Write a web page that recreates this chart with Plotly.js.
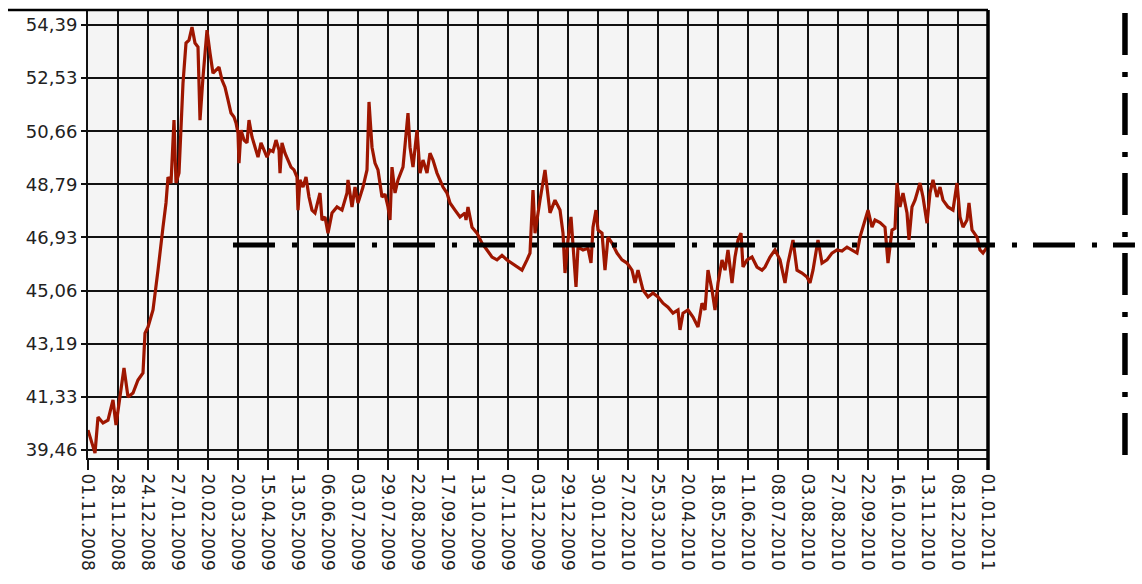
<!DOCTYPE html>
<html>
<head>
<meta charset="utf-8">
<script src="https://cdn.plot.ly/plotly-3.0.1.min.js"></script>
<style>html,body{margin:0;padding:0;background:#fff;}#chart{width:1142px;height:584px;}</style>
</head>
<body>
<div id="chart"></div>
<script>
// Observation number (30 observations per tick interval)
const obs = [0,3,7,10,15,20,25,28,30,32,36,40,45,50,55,57,60,65,68,70,75,78,80,83,86,88,91,95,98,101,104,107,110,112,115,117,119,122,125,128,131,134,137,140,143,146,148,150,151,153,156,159,161,164,167,170,173,176,179,182,185,188,191,192,194,197,200,203,206,209,210,212,215,218,221,224,227,232,234,237,240,244,249,254,259,260,264,267,270,275,279,281,284,287,290,294,297,300,302,304,307,310,315,320,322,325,329,332,335,339,342,345,349,352,355,359,362,367,372,377,378,380,384,389,394,399,404,409,414,419,424,429,434,439,442,445,447,452,457,462,467,472,475,477,480,483,485,488,490,495,500,503,505,508,510,514,517,520,524,529,534,539,544,547,550,555,560,565,570,575,580,585,590,592,595,600,605,610,614,617,620,624,627,630,634,637,640,644,647,650,653,655,659,664,669,674,677,682,687,692,697,700,705,709,714,719,722,725,730,734,739,744,749,754,759,764,769,772,775,780,784,787,792,797,800,804,807,809,812,815,819,821,824,827,832,835,839,842,845,849,852,855,860,865,869,872,875,879,881,884,889,892,895,899];
const rate = [40.16,39.81,39.35,40.62,40.41,40.51,41.22,40.34,40.87,41.32,42.34,41.32,41.46,41.92,42.17,43.57,43.78,44.38,45.33,45.78,47.29,48.14,49.05,48.84,51.05,48.84,49.19,52.35,53.76,53.86,54.32,53.76,53.62,51.05,52.56,53.27,54.21,53.41,52.70,52.81,52.91,52.46,52.21,51.76,51.30,51.16,50.95,50.60,49.54,50.70,50.35,50.25,51.05,50.46,50.10,49.75,50.25,50.00,49.75,50.00,49.95,50.35,50.00,49.19,50.25,49.89,49.65,49.40,49.30,49.05,47.89,48.95,48.70,49.05,48.35,47.89,47.79,48.49,47.54,47.65,47.08,47.79,48.00,47.89,48.49,48.95,48.00,48.70,48.14,48.70,49.30,51.69,50.10,49.54,49.30,48.35,48.45,48.00,47.54,49.40,48.49,48.95,49.40,51.30,50.10,49.40,50.70,49.19,49.65,49.19,49.89,49.65,49.19,48.95,48.70,48.49,48.14,47.89,47.65,47.79,47.54,48.00,47.29,47.08,46.73,46.49,46.24,46.14,46.30,46.14,46.03,45.89,45.78,46.14,46.38,48.59,47.08,48.24,49.30,47.79,48.24,47.89,47.08,45.68,46.84,47.65,46.49,45.19,46.59,46.49,46.55,46.03,47.29,47.89,47.19,47.08,45.78,46.94,46.73,46.38,46.14,46.03,45.78,45.33,45.78,45.08,44.84,44.98,44.84,44.62,44.48,44.27,44.38,43.68,44.27,44.38,44.13,43.78,44.62,44.38,45.78,45.08,44.38,45.33,46.14,45.78,46.49,45.33,46.24,46.84,47.08,45.89,46.14,46.24,45.89,45.78,45.89,46.24,46.49,46.14,45.33,46.03,46.84,45.78,45.68,45.54,45.33,45.78,46.84,46.03,46.14,46.38,46.49,46.45,46.59,46.49,46.38,46.94,47.29,47.89,47.29,47.54,47.45,47.29,46.03,47.19,47.25,48.84,48.00,48.49,47.79,46.84,48.00,48.24,48.84,48.35,47.43,48.49,48.95,48.35,48.70,48.24,48.00,47.89,48.84,47.65,47.29,47.54,48.14,47.19,46.94,46.49,46.38,46.59];

const tickDates = ["01.11.2008","28.11.2008","24.12.2008","27.01.2009","20.02.2009","20.03.2009","15.04.2009","13.05.2009","06.06.2009","03.07.2009","29.07.2009","22.08.2009","17.09.2009","13.10.2009","07.11.2009","03.12.2009","29.12.2009","30.01.2010","27.02.2010","25.03.2010","20.04.2010","18.05.2010","11.06.2010","08.07.2010","03.08.2010","27.08.2010","22.09.2010","16.10.2010","13.11.2010","08.12.2010","01.01.2011"];
const tickObs = tickDates.map((d, i) => i * 30);

const yTicks = [39.46,41.33,43.19,45.06,46.93,48.79,50.66,52.53,54.39];
const yTickText = ["39,46","41,33","43,19","45,06","46,93","48,79","50,66","52,53","54,39"];

const levelValue = 46.66;

const trace = {
  x: obs, y: rate, type: 'scatter', mode: 'lines',
  line: {color: '#9e1600', width: 3.2},
  hoverinfo: 'skip'
};

const dashPattern = '42px,17px,5px,16px';

const layout = {
  width: 1142, height: 584,
  margin: {l: 88, r: 154, t: 10, b: 126, pad: 0},
  paper_bgcolor: '#ffffff',
  plot_bgcolor: '#f4f4f4',
  showlegend: false,
  font: {family: 'DejaVu Sans', size: 18, color: '#222'},
  xaxis: {
    range: [0, 900], tickvals: tickObs, ticktext: tickDates, tickangle: 90,
    showgrid: true, gridcolor: '#111', gridwidth: 2,
    ticks: 'outside', ticklen: 10, tickwidth: 2, tickcolor: '#111',
    showline: true, linecolor: '#111', linewidth: 2,
    zeroline: false, fixedrange: true,
    tickfont: {family: 'DejaVu Sans', size: 17, color: '#222'}
  },
  yaxis: {
    range: [39.18, 54.92], tickvals: yTicks, ticktext: yTickText,
    showgrid: true, gridcolor: '#111', gridwidth: 2,
    ticks: 'outside', ticklen: 5, tickwidth: 2, tickcolor: '#111',
    showline: true, linecolor: '#111', linewidth: 2,
    zeroline: false, fixedrange: true,
    tickfont: {family: 'DejaVu Sans', size: 18, color: '#222'}
  },
  shapes: [
    {type: 'line', xref: 'paper', yref: 'paper', x0: -0.0889, x1: 1.0, y0: 1, y1: 1,
     line: {color: '#000', width: 2.5}},
    {type: 'line', xref: 'paper', yref: 'paper', x0: 1, x1: 1, y0: 1, y1: -0.027,
     line: {color: '#000', width: 3.5}},
    {type: 'line', xref: 'paper', yref: 'y', x0: 0.1611, x1: 1.1633, y0: levelValue, y1: levelValue,
     line: {color: '#000', width: 5, dash: dashPattern}},
    {type: 'line', xref: 'paper', yref: 'paper', x0: 1.1522, x1: 1.1522, y0: 0.9933, y1: 0.0067,
     line: {color: '#000', width: 5.5, dash: dashPattern}}
  ]
};

Plotly.newPlot('chart', [trace], layout, {displayModeBar: false, staticPlot: true});
</script>
</body>
</html>
